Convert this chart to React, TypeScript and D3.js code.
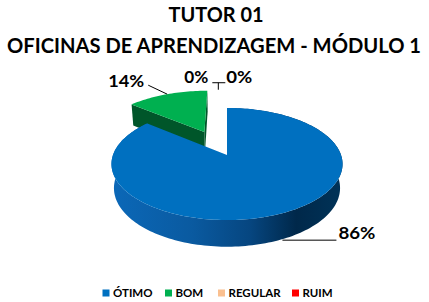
import React from "react";
import * as d3 from "d3";

const categories = ["ÓTIMO", "BOM", "REGULAR", "RUIM"];
const values = [86, 14, 0, 0];
const labels = ["86%", "14%", "0%", "0%"];
const topColors = ["#0070C0", "#00B050", "#FAC090", "#FF0000"];
const sideColors = ["#0A5799", "#00562A", "#B08060", "#A00000"];
const explode = [0, 0.5, 0, 0];
const titleLines = ["TUTOR 01", "OFICINAS DE APRENDIZAGEM - MÓDULO 1"];

const W = 429, H = 302;
const FONT = "Lato, 'Open Sans', sans-serif";

// perspective camera for the 3D pie
const phi = (28.6 * Math.PI) / 180;
const Dcam = 5.46;
const Fcam = 622.6;
const CX = 227, CY = 155;
const DEPTH = 0.243;

function proj(X: number, Y: number, Z: number): [number, number] {
  const u = Y * Math.cos(phi) - Z * Math.sin(phi);
  const w = Y * Math.sin(phi) + Z * Math.cos(phi);
  const k = Fcam / (Dcam - w);
  return [CX + X * k, CY - u * k];
}

const line = d3.line();

export default function App() {
  const pie = d3.pie<number>().sort(null).startAngle(0).endAngle(2 * Math.PI);
  const arcs = pie(values);

  const slices = arcs.map((a, i) => {
    const mid = (a.startAngle + a.endAngle) / 2;
    const ox = Math.sin(mid) * explode[i];
    const oz = -Math.cos(mid) * explode[i];
    const rim = (ang: number, y: number) => proj(ox + Math.sin(ang), y, oz - Math.cos(ang));
    const N = Math.max(2, Math.ceil(((a.endAngle - a.startAngle) / (2 * Math.PI)) * 240));
    const angs = d3.range(N + 1).map((j) => a.startAngle + ((a.endAngle - a.startAngle) * j) / N);
    const topPts: [number, number][] = [proj(ox, 0, oz), ...angs.map((t) => rim(t, 0))];
    const sidePts: [number, number][] = [
      ...angs.map((t) => rim(t, 0)),
      ...angs.slice().reverse().map((t) => rim(t, -DEPTH)),
    ];
    const radial = (t: number): [number, number][] => [
      proj(ox, 0, oz),
      rim(t, 0),
      rim(t, -DEPTH),
      proj(ox, -DEPTH, oz),
    ];
    return { a, i, mid, ox, oz, rim, topPts, sidePts, radialStart: radial(a.startAngle), radialEnd: radial(a.endAngle) };
  });

  const blueSideXs = slices[0].sidePts.map((p) => p[0]);
  const gx0 = d3.min(blueSideXs)!, gx1 = d3.max(blueSideXs)!;

  const order = [1, 0];

  const blue = slices[0];
  const b86 = blue.rim(blue.mid, -DEPTH);
  const green = slices[1];
  const g14 = green.rim(green.mid, 0);
  const gTop = green.rim(green.a.endAngle, 0);
  const ax = gTop[0], ay = gTop[1] - 8;

  const legendX = [102.5, 165, 218, 292];

  return (
    <svg width={W} height={H} style={{ position: "absolute", left: 0, top: 0 }}>
      <defs>
        <linearGradient id="blueSide" gradientUnits="userSpaceOnUse" x1={gx0} x2={gx1} y1={0} y2={0}>
          <stop offset="0" stopColor="#0B68B8" />
          <stop offset="0.35" stopColor="#0A5AA0" />
          <stop offset="0.6" stopColor="#064680" />
          <stop offset="0.8" stopColor="#00284A" />
          <stop offset="1" stopColor="#003358" />
        </linearGradient>
      </defs>
      <rect width={W} height={H} fill="#fff" />
      <g fontFamily={FONT} fontWeight="bold" textAnchor="middle" fill="#000">
        <text x={216} y={22} fontSize={21} textLength={95} lengthAdjust="spacingAndGlyphs">{titleLines[0]}</text>
        <text x={214} y={53} fontSize={20} textLength={414} lengthAdjust="spacingAndGlyphs">{titleLines[1]}</text>
      </g>
      {order.map((i) => {
        const s = slices[i];
        if (values[i] === 0) return null;
        const sideFill = i === 0 ? "url(#blueSide)" : sideColors[i];
        return (
          <g key={i}>
            {i !== 0 && <path d={line(s.radialEnd)! + "Z"} fill={sideColors[i]} />}
            {i !== 0 && <path d={line(s.radialStart)! + "Z"} fill={sideColors[i]} />}
            {i === 0 && <path d={line(s.sidePts)! + "Z"} fill={sideFill} />}
            <path d={line(s.topPts)! + "Z"} fill={topColors[i]} />
          </g>
        );
      })}
      <g fontFamily={FONT} fontWeight="bold" fontSize={17} fill="#000">
        <path d={`M${b86[0]},${b86[1] + 1}H${b86[0] + 54}`} stroke="#000" strokeWidth={1} fill="none" />
        <text x={b86[0] + 56} y={b86[1]} textLength={37} lengthAdjust="spacingAndGlyphs">{labels[0]}</text>
        <path d={`M${g14[0]},${g14[1]}L${g14[0] - 19},${g14[1] - 9}`} stroke="#000" strokeWidth={1} fill="none" />
        <text x={g14[0] - 23} y={g14[1] - 7} textAnchor="end" textLength={36} lengthAdjust="spacingAndGlyphs">{labels[1]}</text>
        <path d={`M${ax + 5},${ay}H${ax + 18}M${ax + 11},${ay}V${ay + 7}`} stroke="#000" strokeWidth={1} fill="none" />
        <text x={ax + 1} y={ay} textAnchor="end" textLength={24} lengthAdjust="spacingAndGlyphs">{labels[2]}</text>
        <text x={ax + 19} y={ay} textLength={26} lengthAdjust="spacingAndGlyphs">{labels[3]}</text>
      </g>
      <g fontFamily={FONT} fontWeight="bold" fontSize={11.5} fill="#000">
        {categories.map((c, i) => (
          <g key={c}>
            <rect x={legendX[i]} y={289.5} width={7} height={7} fill={topColors[i]} />
            <text x={legendX[i] + 10.5} y={297}>{c}</text>
          </g>
        ))}
      </g>
    </svg>
  );
}
